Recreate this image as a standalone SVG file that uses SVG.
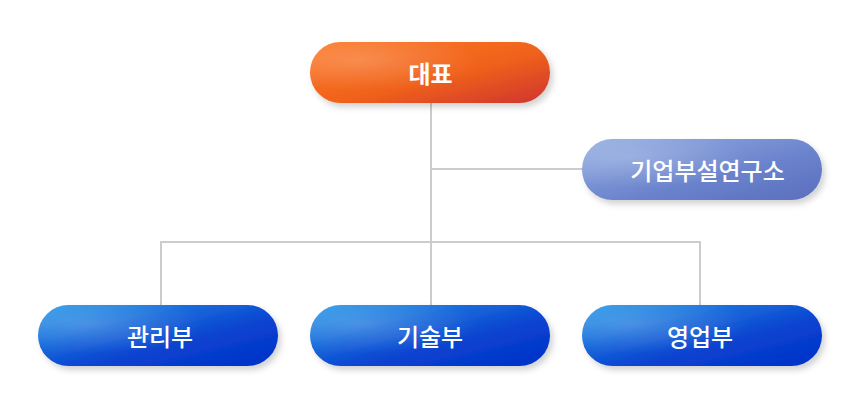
<svg xmlns="http://www.w3.org/2000/svg" width="860" height="405" viewBox="0 0 860 405">
<style>
.lbl{font-family:"Noto Sans CJK KR","Noto Sans",sans-serif;font-weight:500;font-size:24px;fill:#fff;text-anchor:middle;dominant-baseline:central}
.b{font-weight:bold}
.con{stroke:#cccccc;stroke-width:2;fill:none}
</style>
<defs>
<linearGradient id="gOr" x1="0" y1="0" x2="1" y2="1">
<stop offset="0" stop-color="#fb7a2a"/><stop offset="0.55" stop-color="#f0621a"/><stop offset="1" stop-color="#cf3430"/>
</linearGradient>
<linearGradient id="gBl" x1="0" y1="0" x2="1" y2="1">
<stop offset="0" stop-color="#2a9be8"/><stop offset="0.6" stop-color="#0a44d0"/><stop offset="1" stop-color="#0030c8"/>
</linearGradient>
<linearGradient id="gPu" x1="0" y1="0" x2="1" y2="1">
<stop offset="0" stop-color="#94aee2"/><stop offset="0.6" stop-color="#6a82cc"/><stop offset="1" stop-color="#5a6ebe"/>
</linearGradient>
<radialGradient id="hl" cx="0.2" cy="0.3" r="0.5">
<stop offset="0" stop-color="#fff" stop-opacity="0.2"/><stop offset="1" stop-color="#fff" stop-opacity="0"/>
</radialGradient>
<filter id="sh" x="-10%" y="-20%" width="125%" height="160%">
<feDropShadow dx="3" dy="4" stdDeviation="3" flood-color="#000" flood-opacity="0.18"/>
</filter>
</defs>
<g id="connectors">
<path class="con" d="M431 103V305M431 169H582M161 305V242H700V305"/>
</g>
<g id="n-ceo">
<rect x="310" y="42" width="240" height="61" rx="30.5" fill="url(#gOr)" filter="url(#sh)"/>
<rect x="310" y="42" width="240" height="61" rx="30.5" fill="url(#hl)"/>
<text class="lbl b" x="430.5" y="72.5">대표</text>
</g>
<g id="n-lab">
<rect x="582" y="139" width="240" height="61" rx="30.5" fill="url(#gPu)" filter="url(#sh)"/>
<rect x="582" y="139" width="240" height="61" rx="30.5" fill="url(#hl)"/>
<text class="lbl" x="707.5" y="169.5">기업부설연구소</text>
</g>
<g id="n-admin">
<rect x="38" y="305" width="240" height="61" rx="30.5" fill="url(#gBl)" filter="url(#sh)"/>
<rect x="38" y="305" width="240" height="61" rx="30.5" fill="url(#hl)"/>
<text class="lbl" x="160" y="335.5">관리부</text>
</g>
<g id="n-tech">
<rect x="310" y="305" width="240" height="61" rx="30.5" fill="url(#gBl)" filter="url(#sh)"/>
<rect x="310" y="305" width="240" height="61" rx="30.5" fill="url(#hl)"/>
<text class="lbl" x="430" y="335.5">기술부</text>
</g>
<g id="n-sales">
<rect x="582" y="305" width="240" height="61" rx="30.5" fill="url(#gBl)" filter="url(#sh)"/>
<rect x="582" y="305" width="240" height="61" rx="30.5" fill="url(#hl)"/>
<text class="lbl" x="700" y="335.5">영업부</text>
</g>
</svg>
